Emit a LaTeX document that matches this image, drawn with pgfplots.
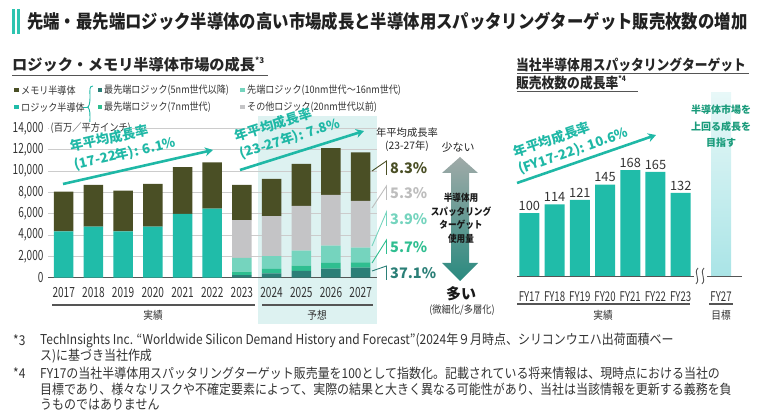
\documentclass[border=0pt]{standalone}
\usepackage{fontspec}
\usepackage{pgfplots}
\usepackage{pgfplotstable}
\pgfplotsset{compat=1.18}
\usetikzlibrary{arrows.meta}
\setmainfont{Noto Sans CJK JP}
\newfontfamily\cjkc{Noto Sans CJK JP}[FakeStretch=0.88]
\newfontfamily\numc{Noto Sans CJK JP}[FakeStretch=0.72]
\newcommand\fs[1]{\fontsize{#1}{#1}\selectfont}
\definecolor{cTxt}{HTML}{333333}
\definecolor{cAxis}{HTML}{555555}
\definecolor{cGrid}{HTML}{CCCCCC}
\definecolor{cMem}{HTML}{4A4F25}
\definecolor{cLogic}{HTML}{20BCA9}
\definecolor{cFive}{HTML}{2B7F77}
\definecolor{cSeven}{HTML}{2FBE90}
\definecolor{cTen}{HTML}{75D4BE}
\definecolor{cOther}{HTML}{C4C4C6}
\definecolor{cShade}{HTML}{DDF2F1}
\definecolor{cAnn}{HTML}{1FB8A6}
\definecolor{cFYtop}{HTML}{E8F8F8}
\definecolor{cFYbot}{HTML}{A9E4E6}
\definecolor{cGoal}{HTML}{1A9B7B}
\definecolor{cArrTop}{HTML}{A0AAA8}
\definecolor{cArrMid}{HTML}{EEF5F4}
\definecolor{cArrBot}{HTML}{2A8A7F}
\definecolor{cBar}{HTML}{2EC4B0}
\definecolor{cPctGray}{HTML}{BDBDBD}

\pgfplotstableread{
x logic n5 n7 n1016 other mem
0 4350 0 0 0 0 3710
1 4780 0 0 0 0 3910
2 4350 0 0 0 0 3800
3 4780 0 0 0 0 4000
4 5970 0 0 0 0 4380
5 6470 0 0 0 0 4340
6 0 250 310 1290 3550 3290
7 0 410 405 1215 3750 3470
8 0 630 495 1405 4190 3940
9 0 845 555 1600 4750 4380
10 0 940 500 1370 4380 4560
}\leftdata

\begin{document}
\begin{tikzpicture}
\useasboundingbox (0,0) rectangle (760pt,411pt);
% background shade for forecast
\begin{scope}[x=1pt,y=-1pt,yshift=411pt]
\fill[cShade] (258,116) rectangle (377,324);
\end{scope}

% ---------- left chart ----------
\begin{axis}[
  at={(48pt,133.3pt)}, anchor=south west, scale only axis,
  width=329pt, height=149.4pt,
  xmin=-0.53, xmax=10.55, ymin=0, ymax=14000,
  ybar stacked, bar width=19.5pt,
  axis x line*=bottom, axis y line*=left,
  y axis line style={draw=none},
  x axis line style={draw=cAxis, line width=1.2pt},
  xtick={0,...,10},
  xticklabels={2017,2018,2019,2020,2021,2022,2023,2024,2025,2026,2027},
  xtick style={draw=none}, ytick style={draw=none},
  ytick={0,2000,...,14000},
  scaled y ticks=false,
  ymajorgrids, grid style={draw=cGrid, line width=0.7pt},
  /pgf/number format/1000 sep={,},
  /pgf/number format/assume math mode=true,
  ticklabel style={font=\numc\fs{14}, text=cTxt},
  xticklabel style={anchor=center, yshift=-15pt},
  yticklabel style={anchor=east, xshift=-1pt},
  clip=false,
]
\addplot[fill=cLogic, draw=none] table[x=x,y=logic]{\leftdata};
\addplot[fill=cFive, draw=none] table[x=x,y=n5]{\leftdata};
\addplot[fill=cSeven, draw=none] table[x=x,y=n7]{\leftdata};
\addplot[fill=cTen, draw=none] table[x=x,y=n1016]{\leftdata};
\addplot[fill=cOther, draw=none] table[x=x,y=other]{\leftdata};
\addplot[fill=cMem, draw=none] table[x=x,y=mem]{\leftdata};
\end{axis}

% ---------- right chart ----------
\begin{axis}[
  at={(517pt,134.3pt)}, anchor=south west, scale only axis,
  width=225pt, height=190.5pt,
  xmin=-0.49, xmax=8.43, ymin=0, ymax=300,
  ybar, bar width=20pt, bar shift=0pt,
  axis x line*=bottom, axis y line*=left,
  axis line style={draw=none},
  xtick={0,1,2,3,4,5,6,7.6},
  xticklabels={FY17,FY18,FY19,FY20,FY21,FY22,FY23,FY27},
  ytick=\empty,
  xtick style={draw=none},
  /pgf/number format/assume math mode=true,
  ticklabel style={font=\numc\fs{13.4}, text=cTxt},
  xticklabel style={anchor=center, yshift=-16pt},
  clip=false,
]
\addplot[fill=cLogic, draw=none, nodes near coords,
  every node near coord/.append style={font=\fs{12.8}, text=cTxt, inner sep=2.5pt,
    /pgf/number format/assume math mode=true}]
  coordinates {(0,100) (1,114) (2,121) (3,145) (4,168) (5,165) (6,132)};
\addplot[draw=none, top color=cFYtop, bottom color=cFYbot]
  coordinates {(7.6,290)};
\end{axis}

% ---------- overlays ----------
\begin{scope}[x=1pt,y=-1pt,yshift=411pt]
% title
\fill[cBar] (12,9) rectangle (14.6,34);
\fill[cBar] (17,9) rectangle (19.6,34);
\node[anchor=west, inner sep=0, font=\cjkc\bfseries\fs{18.6}, text=black!87] at (27,21.5)
  {先端・最先端ロジック半導体の高い市場成長と半導体用スパッタリングターゲット販売枚数の増加};

% section titles
\node[anchor=west, inner sep=0, font=\bfseries\fs{15.2}, text=black!85] at (12,65)
  {ロジック・メモリ半導体市場の成長\raisebox{0.45em}{\fs{8}*3}};
\draw[cAxis, line width=1.1pt] (12,75.5) -- (268,75.5);
\node[anchor=west, inner sep=0, font=\cjkc\bfseries\fs{14.5}, text=black!85] at (516,64.5)
  {当社半導体用スパッタリングターゲット};
\draw[cAxis, line width=1.1pt] (517,73.5) -- (749,73.5);
\node[anchor=west, inner sep=0, font=\cjkc\bfseries\fs{14.5}, text=black!85] at (516,83)
  {販売枚数の成長率\raisebox{0.45em}{\fs{7.5}*4}};
\draw[cAxis, line width=1.1pt] (517,91.5) -- (638,91.5);

% legend
\begin{scope}[every node/.style={anchor=west, inner sep=0, font=\cjkc\fs{10.3}, text=cTxt}]
\fill[cMem] (14,88) rectangle (18.5,92.5);
\node at (21,90.3) {メモリ半導体};
\fill[cLogic] (14,105) rectangle (18.5,109.5);
\node at (21,107.3) {ロジック半導体};
\draw[cAnn, line width=0.8pt] (83,107.3) -- (88,107.3);
\draw[cAnn, line width=0.9pt] (93,86) .. controls (89,86) and (90,90) .. (90,96) .. controls (90,104) and (89,107.3) .. (87,107.3) .. controls (89,107.3) and (90,110) .. (90,117) .. controls (90,122) and (89,126) .. (93,126);
\fill[cFive] (97.5,88) rectangle (102,92.5);
\node at (104,90.3) {最先端ロジック(5nm世代以降)};
\fill[cSeven] (97.5,105) rectangle (102,109.5);
\node at (104,107.3) {最先端ロジック(7nm世代)};
\fill[cTen] (240,88) rectangle (244.5,92.5);
\node at (247,90.3) {先端ロジック(10nm世代～16nm世代)};
\fill[cOther] (240,105) rectangle (244.5,109.5);
\node at (247,107.3) {その他ロジック(20nm世代以前)};
\end{scope}

% unit label
\node[anchor=west, inner sep=1.5pt, fill=white, font=\cjkc\fs{10.5}, text=cTxt] at (49,128.5) {(百万／平方インチ)};

% CAGR arrows left
\draw[cAnn, line width=2.6pt, -{Stealth[length=8pt,width=9pt]}] (63,184) -- (213,150);
\node[anchor=west, inner sep=0, rotate=12.8, font=\bfseries\fs{13.3}, text=cAnn] at (70,147) {年平均成長率};
\node[anchor=west, inner sep=0, rotate=12.8, font=\bfseries\fs{13.3}, text=cAnn] at (74,165.5) {(17-22年): 6.1\%};
\draw[cAnn, line width=2.6pt, -{Stealth[length=8pt,width=9pt]}] (240,170) -- (364,131);
\node[anchor=west, inner sep=0, rotate=17.6, font=\bfseries\fs{13.3}, text=cAnn] at (235,136.5) {年平均成長率};
\node[anchor=west, inner sep=0, rotate=17.6, font=\bfseries\fs{13.3}, text=cAnn] at (240,154.5) {(23-27年): 7.8\%};

% CAGR column
\node[inner sep=0, font=\fs{10.3}, text=black!85] at (407,133) {年平均成長率};
\node[inner sep=0, font=\fs{10.3}, text=black!85] at (407,146) {(23-27年)};
\begin{scope}[line width=0.9pt]
\draw[cMem] (372,171) -- (386.5,161) -- (386.5,175);
\draw[cPctGray] (372,208) -- (386.5,186) -- (386.5,200);
\draw[cTen] (372,246) -- (386.5,212) -- (386.5,226);
\draw[cSeven] (372,263) -- (386.5,240) -- (386.5,254);
\draw[cFive] (372,271) -- (386.5,266) -- (386.5,280);
\end{scope}
\begin{scope}[every node/.style={anchor=west, inner sep=0, font=\bfseries\fs{14.5}}]
\node[text=cMem] at (390,168.5) {8.3\%};
\node[text=cPctGray] at (390,193.5) {5.3\%};
\node[text=cTen] at (390,219.5) {3.9\%};
\node[text=cSeven] at (390,247) {5.7\%};
\node[text=cFive] at (390,273.5) {37.1\%};
\end{scope}

% middle double arrow
\shade[top color=cArrTop, middle color=cArrMid, bottom color=cArrBot]
  (460,157) -- (478,173) -- (469,173) -- (469,263) -- (478,263) -- (460,281)
  -- (442,263) -- (451,263) -- (451,173) -- (442,173) -- cycle;
\node[inner sep=0, font=\fs{11}, text=black!85] at (458,147.5) {少ない};
\begin{scope}[every node/.style={inner sep=0, font=\cjkc\bfseries\fs{9.8}, text=black!90}]
\node at (461,198) {半導体用};
\node at (461,211.5) {スパッタリング};
\node at (461,225) {ターゲット};
\node at (461,238.5) {使用量};
\end{scope}
\node[inner sep=0, font=\bfseries\fs{15}, text=black!90] at (461,293.5) {多い};
\node[inner sep=0, font=\cjkc\fs{10.5}, text=cTxt] at (462,310) {(微細化/多層化)};

% group underlines / labels
\draw[cAxis, line width=1.1pt] (52,305) -- (255,305);
\draw[cAxis, line width=1.1pt] (262,305) -- (373,305);
\draw[cAxis, line width=1.1pt] (517,304) -- (690,304);
\draw[cAxis, line width=1.1pt] (709,304) -- (733,304);
\begin{scope}[every node/.style={inner sep=0, font=\cjkc\fs{11}, text=cTxt}]
\node at (153,315) {実績};
\node at (317,315) {予想};
\node at (603,315) {実績};
\node at (721,315) {目標};
\end{scope}

% right baseline with break
\draw[cAxis, line width=1.2pt] (517,276.7) -- (694,276.7);
\draw[cAxis, line width=1.2pt] (707,276.7) -- (742,276.7);
\draw[cAxis, line width=0.9pt] (696,284) .. controls (701,279) and (693,273) .. (698,268);
\draw[cAxis, line width=0.9pt] (702,284) .. controls (707,279) and (699,273) .. (704,268);

% right CAGR arrow
\draw[cAnn, line width=2.6pt, -{Stealth[length=8pt,width=9pt]}] (517,183) -- (656,135);
\node[anchor=west, inner sep=0, rotate=19, font=\bfseries\fs{13.3}, text=cAnn] at (514,152.5) {年平均成長率};
\node[anchor=west, inner sep=0, rotate=19, font=\bfseries\fs{13.3}, text=cAnn] at (519,170) {(FY17-22): 10.6\%};

% FY27 goal text
\begin{scope}[every node/.style={inner sep=0, font=\bfseries\fs{10}, text=cGoal}]
\node at (721,110) {半導体市場を};
\node at (721,127) {上回る成長を};
\node at (721,143) {目指す};
\end{scope}

% footnotes
\begin{scope}[every node/.style={anchor=west, inner sep=0, font=\cjkc\fs{13.6}, text=cTxt}]
\node at (13,340.5) {*3};
\node at (40,340.5) {TechInsights Inc. “Worldwide Silicon Demand History and Forecast”(2024年９月時点、シリコンウエハ出荷面積ベー};
\node at (40,356.5) {ス)に基づき当社作成};
\node at (13,373) {*4};
\node at (40,373) {FY17の当社半導体用スパッタリングターゲット販売量を100として指数化。記載されている将来情報は、現時点における当社の};
\node at (40,389) {目標であり、様々なリスクや不確定要素によって、実際の結果と大きく異なる可能性があり、当社は当該情報を更新する義務を負};
\node at (40,404.5) {うものではありません};
\end{scope}
\end{scope}
\end{tikzpicture}
\end{document}
